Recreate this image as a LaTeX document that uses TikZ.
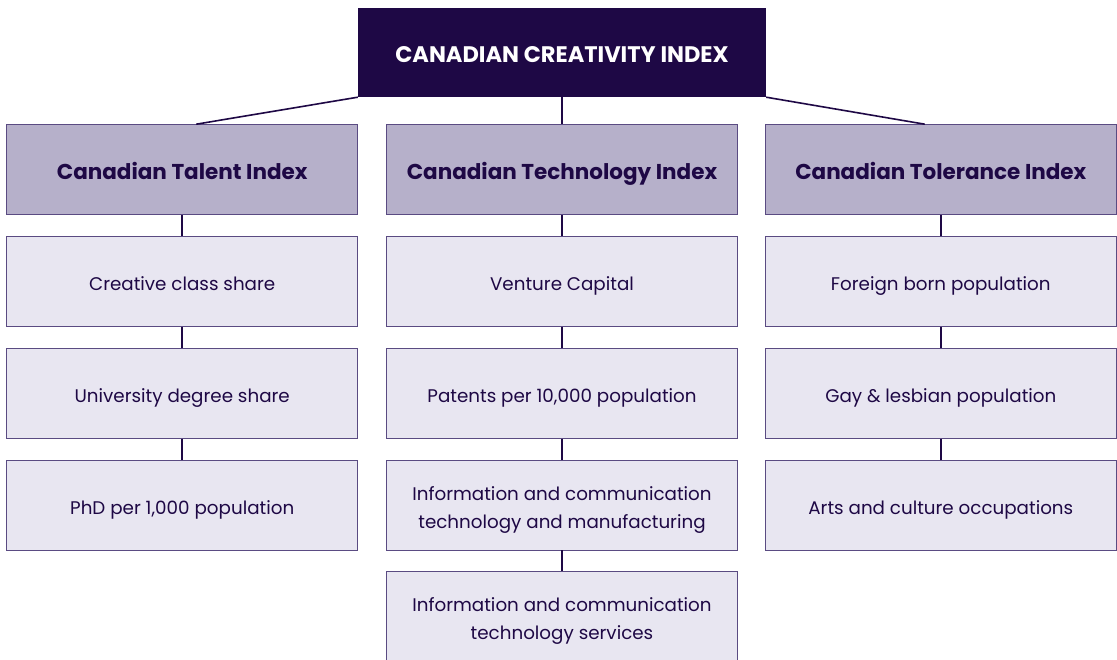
\documentclass[tikz,border=0pt]{standalone}
\usepackage{fontspec}
\setmainfont{Poppins}
\usepackage{xcolor}
\usetikzlibrary{positioning}

\definecolor{cciDark}{HTML}{1E0845}
\definecolor{cciLine}{HTML}{5A4B82}
\definecolor{cciHead}{HTML}{B6B0CA}
\definecolor{cciLeaf}{HTML}{E8E6F1}

\begin{document}
\begin{tikzpicture}[x=1pt, y=1pt,
	topbox/.style={fill=cciDark, minimum width=408pt, minimum height=89pt, text=white, text height=2.4ex+8pt, text depth=0.1ex, font=\bfseries\fontsize{22.5}{26}\selectfont},
	idxbox/.style={draw=cciLine, line width=0.8pt, fill=cciHead, minimum width=351pt, minimum height=90pt, text=cciDark, text height=2.5ex+6pt, text depth=0.1ex, font=\bfseries\fontsize{21.5}{25}\selectfont},
	itembox/.style={draw=cciLine, line width=0.8pt, fill=cciLeaf, minimum width=351pt, minimum height=90pt, text=cciDark, align=center, font=\fontsize{18.3}{28}\selectfont},
	oneline/.style={itembox, text height=2.4ex+6pt, text depth=0.2ex},
	twoline/.style={itembox, text height=2.4ex+34pt, text depth=0.2ex},
	link/.style={draw=cciDark, line width=1.6pt}]
	\useasboundingbox (0,0) rectangle (1117,-659);
	\clip (0,0) rectangle (1117,-659);

	\node[topbox] (cci) at (562,-52.5) {CANADIAN CREATIVITY INDEX};

	\node[idxbox, below=27pt of cci] (tech) {Canadian Technology Index};
	\node[idxbox, left=28pt of tech] (tal) {Canadian Talent Index};
	\node[idxbox, right=27pt of tech] (tol) {Canadian Tolerance Index};

	\node[oneline, below=21pt of tal] (tal1) {Creative class share};
	\node[oneline, below=21pt of tal1] (tal2) {University degree share};
	\node[oneline, below=21pt of tal2] (tal3) {PhD per 1,000 population};

	\node[oneline, below=21pt of tech] (tech1) {Venture Capital};
	\node[oneline, below=21pt of tech1] (tech2) {Patents per 10,000 population};
	\node[twoline, below=21pt of tech2] (tech3) {Information and communication\\technology and manufacturing};
	\node[twoline, below=21pt of tech3] (tech4) {Information and communication\\technology services};

	\node[oneline, below=21pt of tol] (tol1) {Foreign born population};
	\node[oneline, below=21pt of tol1] (tol2) {Gay \& lesbian population};
	\node[oneline, below=21pt of tol2] (tol3) {Arts and culture occupations};

	\draw[link] (cci.south west) -- ([xshift=14pt]tal.north);
	\draw[link] (cci.south) -- (tech.north);
	\draw[link] (cci.south east) -- ([xshift=-16pt]tol.north);

	\draw[link] (tal.south) -- (tal1.north);
	\draw[link] (tal1.south) -- (tal2.north);
	\draw[link] (tal2.south) -- (tal3.north);
	\draw[link] (tech.south) -- (tech1.north);
	\draw[link] (tech1.south) -- (tech2.north);
	\draw[link] (tech2.south) -- (tech3.north);
	\draw[link] (tech3.south) -- (tech4.north);
	\draw[link] (tol.south) -- (tol1.north);
	\draw[link] (tol1.south) -- (tol2.north);
	\draw[link] (tol2.south) -- (tol3.north);
\end{tikzpicture}
\end{document}
